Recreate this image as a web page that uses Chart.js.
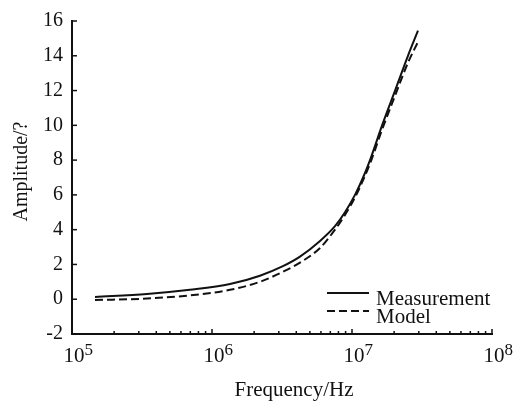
<!DOCTYPE html>
<html>
<head>
<meta charset="utf-8">
<script src="https://cdn.jsdelivr.net/npm/chart.js@4.4.1/dist/chart.umd.min.js"></script>
<style>
  html, body { margin: 0; padding: 0; background: #fff; }
</style>
</head>
<body>
<canvas id="ampChart" width="522" height="404"></canvas>
<script>
//Data
var Frequency   = [1.46e5, 3.43e5, 6.96e5, 1.345e6, 2.2e6, 3.21e6, 4.25e6, 5.91e6, 7.56e6, 8.91e6, 1.05e7, 1.2e7, 1.345e7, 1.64e7, 2.03e7, 2.51e7, 2.96e7];
var Measurement = [0.13, 0.30, 0.54, 0.87, 1.35, 1.9, 2.45, 3.35, 4.2, 5.0, 6.0, 7.0, 8.0, 10.0, 12.0, 14.0, 15.45];
var Model       = [-0.05, 0.04, 0.22, 0.54, 1.0, 1.58, 2.1, 2.95, 4.0, 4.85, 5.85, 6.85, 7.8, 9.75, 11.7, 13.6, 14.8];
var SeriesNames = ["Measurement", "Model"];
var FreqTicks   = [1e5, 1e6, 1e7, 1e8];
var AmpMin = -2, AmpMax = 16, AmpStep = 2;
var XTitle = "Frequency/Hz";
var YTitle = "Amplitude/?";

const serif = '"Liberation Serif", "Times New Roman", serif';
const ink = '#111';

function toPoints(ys) {
  return Frequency.map(function (f, i) { return { x: f, y: ys[i] }; });
}

//Inward tick marks, x labels with exponents, axis titles and the legend
const decorPlugin = {
  id: 'decor',
  afterDraw(chart) {
    const ctx = chart.ctx;
    const xs = chart.scales.x;
    const ys = chart.scales.y;
    const area = chart.chartArea;
    ctx.save();
    ctx.strokeStyle = ink;
    ctx.lineWidth = 1.5;

    // y ticks pointing right
    for (var v = AmpMin; v <= AmpMax; v += AmpStep) {
      var py = ys.getPixelForValue(v);
      ctx.beginPath();
      ctx.moveTo(area.left, py);
      ctx.lineTo(area.left + 5, py);
      ctx.stroke();
    }

    // x ticks pointing up, minor ones shorter
    for (var d = 0; d < FreqTicks.length; d++) {
      for (var m = 1; m <= 9; m++) {
        var f = FreqTicks[d] * m;
        if (f > FreqTicks[FreqTicks.length - 1]) break;
        var px = xs.getPixelForValue(f);
        ctx.beginPath();
        ctx.moveTo(px, area.bottom);
        ctx.lineTo(px, area.bottom - (m === 1 ? 5 : 3));
        ctx.stroke();
      }
    }

    // x labels: 10 with a raised exponent
    ctx.fillStyle = ink;
    ctx.textBaseline = 'alphabetic';
    FreqTicks.forEach(function (f) {
      var px = xs.getPixelForValue(f);
      ctx.font = '21px ' + serif;
      ctx.textAlign = 'center';
      ctx.fillText('10', px + 2, area.bottom + 28);
      var w = ctx.measureText('10').width;
      ctx.font = '17px ' + serif;
      ctx.textAlign = 'left';
      ctx.fillText(String(Math.round(Math.log10(f))), px + 2 + w / 2, area.bottom + 21);
    });

    // axis titles
    ctx.font = '21px ' + serif;
    ctx.textAlign = 'center';
    ctx.textBaseline = 'middle';
    ctx.fillText(XTitle, (area.left + area.right) / 2 + 12, 390);
    ctx.save();
    ctx.translate(22, (area.top + area.bottom) / 2 - 6);
    ctx.rotate(-Math.PI / 2);
    ctx.font = '20px ' + serif;
    ctx.fillText(YTitle, 0, 0);
    ctx.restore();

    // legend
    ctx.textBaseline = 'alphabetic';
    var lx = area.right - 165;
    var ly = area.bottom - 41;
    chart.data.datasets.forEach(function (ds, i) {
      var y0 = ly + i * 18;
      ctx.setLineDash(ds.borderDash || []);
      ctx.lineWidth = ds.borderWidth;
      ctx.strokeStyle = ds.borderColor;
      ctx.beginPath();
      ctx.moveTo(lx, y0);
      ctx.lineTo(lx + 42, y0);
      ctx.stroke();
      ctx.setLineDash([]);
      ctx.font = '21px ' + serif;
      ctx.fillStyle = ink;
      ctx.textAlign = 'left';
      ctx.fillText(ds.label, lx + 49, y0 + 12);
    });
    ctx.restore();
  }
};

const config = {
  type: 'line',
  data: {
    datasets: [{
      label: SeriesNames[0],
      data: toPoints(Measurement),
      borderColor: ink,
      borderWidth: 2,
      pointRadius: 0,
      fill: false,
      cubicInterpolationMode: 'monotone'
    }, {
      label: SeriesNames[1],
      data: toPoints(Model),
      borderColor: ink,
      borderWidth: 2,
      borderDash: [8, 4],
      pointRadius: 0,
      fill: false,
      cubicInterpolationMode: 'monotone'
    }]
  },
  options: {
    responsive: false,
    animation: false,
    layout: { padding: { left: 0, right: 30, top: 10, bottom: 0 } },
    plugins: {
      legend: { display: false },
      tooltip: { enabled: false }
    },
    scales: {
      x: {
        type: 'logarithmic',
        position: 'bottom',
        min: FreqTicks[0],
        max: FreqTicks[FreqTicks.length - 1],
        grid: { display: false, drawTicks: false },
        border: { display: true, color: ink, width: 2 },
        ticks: { display: false },
        afterFit: function (scale) { scale.height = 70; }
      },
      y: {
        type: 'linear',
        min: AmpMin,
        max: AmpMax,
        grid: { display: false, drawTicks: false },
        border: { display: true, color: ink, width: 2 },
        ticks: {
          stepSize: AmpStep,
          color: ink,
          padding: 9,
          font: { family: serif, size: 20 }
        },
        afterFit: function (scale) { scale.width = 72; }
      }
    }
  },
  plugins: [decorPlugin]
};

var chart = new Chart(document.getElementById('ampChart'), config);
</script>
</body>
</html>
